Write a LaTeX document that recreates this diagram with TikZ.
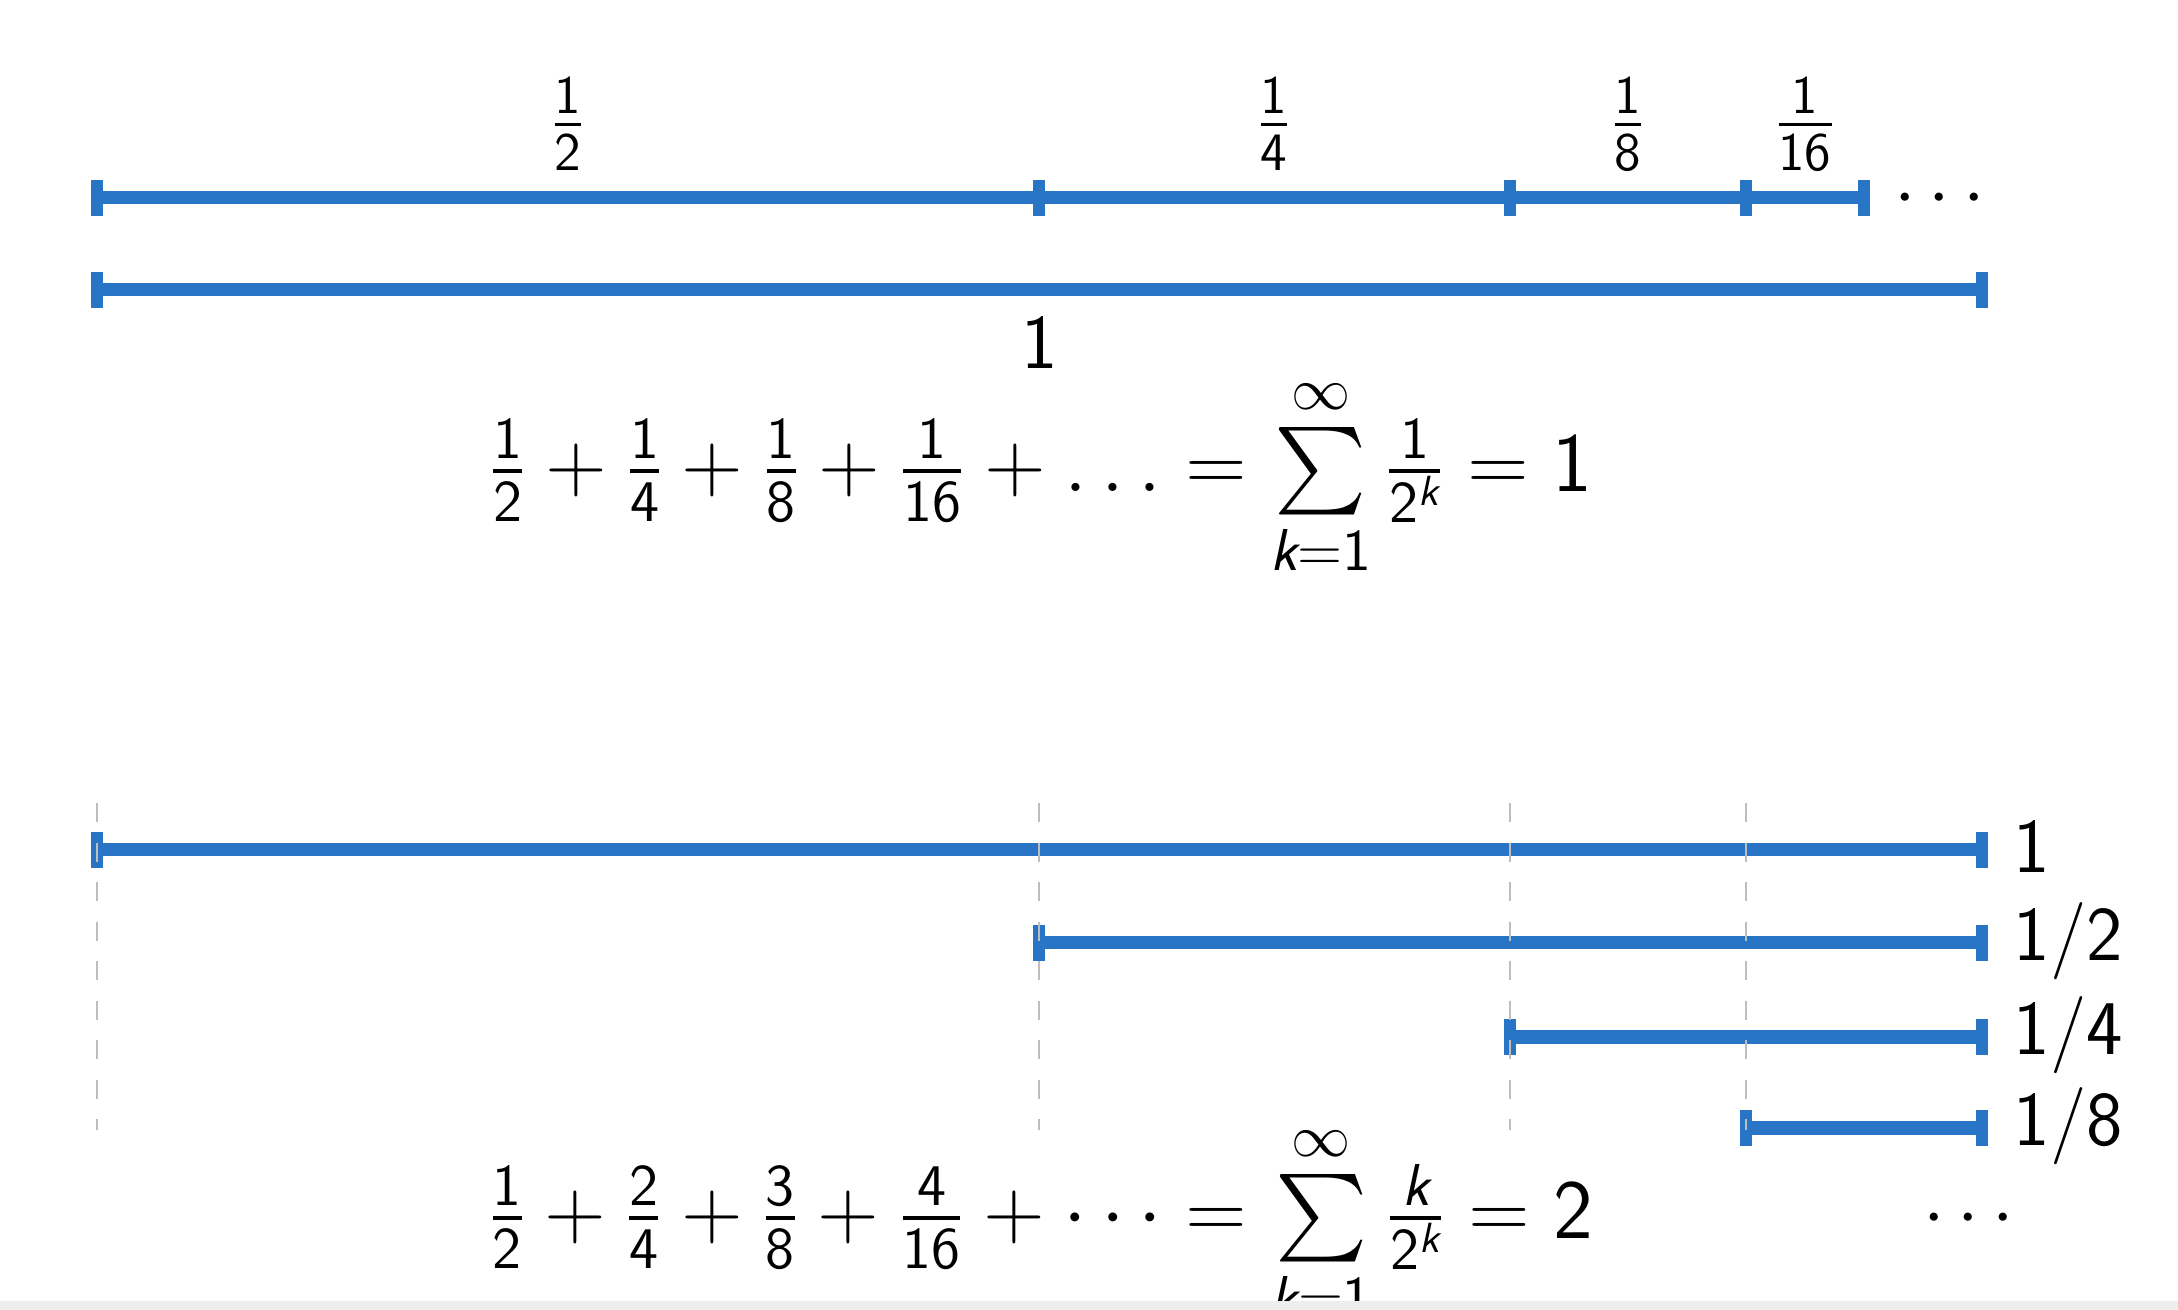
\RequirePackage{fix-cm}
\documentclass[tikz,border=0pt]{standalone}
\usepackage{amsmath}
\usepackage{tikz}

% sans digits and signs in math, as on a slide
\DeclareSymbolFont{operators}{OT1}{cmss}{m}{n}
\newcommand{\kv}{\textsf{\slshape k}}

\definecolor{segblue}{RGB}{41,117,197}
\definecolor{guidegray}{RGB}{190,190,190}
\definecolor{stripgray}{RGB}{238,238,238}

\tikzset{
  seg/.style={segblue, line width=0.13cm},
  tick/.style={segblue, line width=0.12cm},
  guide/.style={guidegray, line width=0.016cm, dash pattern=on 0.19cm off 0.205cm},
  lbl/.style={inner sep=0pt, font=\sffamily\fontsize{22}{26}\selectfont},
  eqn/.style={lbl, anchor=base, font=\sffamily\fontsize{24}{28}\selectfont}
}

\begin{document}
\begin{tikzpicture}[x=0.01cm, y=-0.01cm]
\useasboundingbox (0,0) rectangle (2178,1310);
\fill[white] (0,0) rectangle (2178,1310);
% halves laid end to end
\foreach \n/\x in {0/97,1/1039,2/1510,3/1746,4/1864}
  \coordinate (a\n) at (\x,198);
\draw[seg] (a0) -- (a4);
\foreach \n in {0,...,4} \draw[tick] (a\n) ++(0,-18) -- ++(0,36);
\node[lbl] (h1) at (568,124) {$\frac{1}{2}$};
\node[lbl] (h2) at (1274,124) {$\frac{1}{4}$};
\node[lbl] (h3) at (1628,124) {$\frac{1}{8}$};
\node[lbl] (h4) at (1805,124) {$\frac{1}{16}$};
\node[lbl, anchor=base] (more) at (1946,217) {$\cdots$};
% the whole unit
\coordinate (b0) at (97,290); \coordinate (b1) at (1982,290);
\draw[seg] (b0) -- (b1);
\foreach \n in {0,1} \draw[tick] (b\n) ++(0,-18) -- ++(0,36);
\node[lbl, anchor=base] (one) at (1040,369) {1};
\node[eqn] (sum1) at (1041,492)
  {$\frac{1}{2}+\frac{1}{4}+\frac{1}{8}+\frac{1}{16}+\ldots=\sum\limits_{\kv=1}^{\infty}\frac{1}{2^{\kv}}=1$};
% tails starting at each mark
\foreach \n/\x/\y in {0/97/850,1/1039/943,2/1510/1037,3/1746/1128} {
  \coordinate (c\n) at (\x,\y); \coordinate (e\n) at (1982,\y);
  \draw[seg] (c\n) -- (e\n);
  \draw[tick] (c\n) ++(0,-18) -- ++(0,36);
  \draw[tick] (e\n) ++(0,-18) -- ++(0,36);
}
\foreach \n/\x in {0/97,1/1039,2/1510,3/1746}
  \draw[guide] (\x,803) -- (\x,1130);
\node[lbl, anchor=base west] (t0) at (2013,873) {1};
\node[lbl, anchor=base west] (t1) at (2013,961) {1/2};
\node[lbl, anchor=base west] (t2) at (2013,1055) {1/4};
\node[lbl, anchor=base west] (t3) at (2013,1146) {1/8};
\node[lbl, anchor=base] (rest) at (1975,1237) {$\cdots$};
\node[eqn] (sum2) at (1041,1239)
  {$\frac{1}{2}+\frac{2}{4}+\frac{3}{8}+\frac{4}{16}+\cdots=\sum\limits_{\kv=1}^{\infty}\frac{\kv}{2^{\kv}}=2$};
\fill[stripgray] (0,1301) rectangle (2178,1310);
\end{tikzpicture}
\end{document}
